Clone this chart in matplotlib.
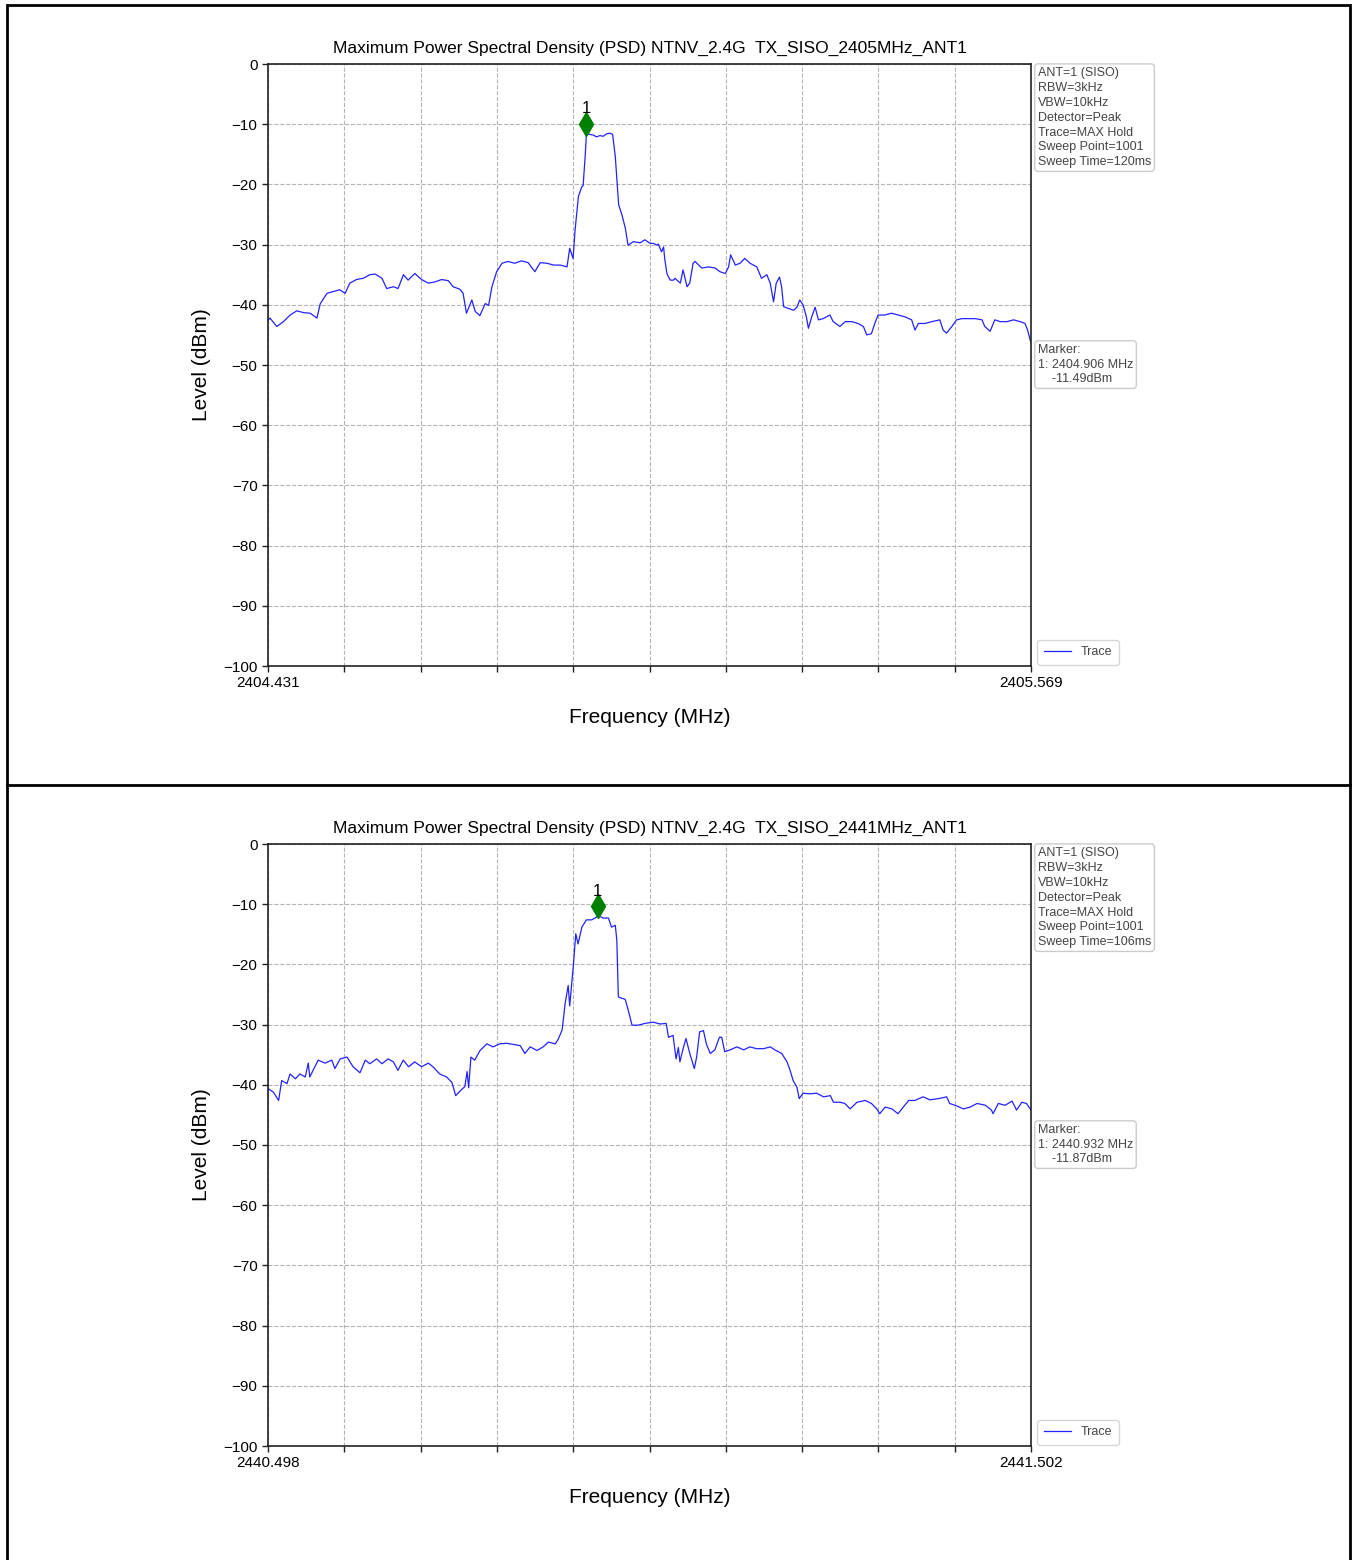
import matplotlib
matplotlib.use("Agg")
import matplotlib.pyplot as plt
from matplotlib.patches import Rectangle
from matplotlib.lines import Line2D

plt.rcParams['font.family'] = ['Liberation Sans', 'DejaVu Sans']

# ---------------- Panel 1 data ----------------
title1 = "Maximum Power Spectral Density (PSD) NTNV_2.4G  TX_SISO_2405MHz_ANT1"
start1, stop1 = 2404.431, 2405.569
freq1 = [2404.431, 2404.434, 2404.444, 2404.454, 2404.464, 2404.474, 2404.484, 2404.494,
         2404.504, 2404.509, 2404.519, 2404.528, 2404.538, 2404.546, 2404.553, 2404.563,
         2404.573, 2404.583, 2404.591, 2404.601, 2404.608, 2404.618, 2404.625, 2404.633,
         2404.640, 2404.650, 2404.660, 2404.670, 2404.680, 2404.690, 2404.700, 2404.707,
         2404.717, 2404.722, 2404.727, 2404.735, 2404.740, 2404.747, 2404.755, 2404.760,
         2404.765, 2404.772, 2404.780, 2404.789, 2404.799, 2404.809, 2404.819, 2404.829,
         2404.837, 2404.847, 2404.857, 2404.867, 2404.877, 2404.881, 2404.886, 2404.889,
         2404.894, 2404.899, 2404.901, 2404.904, 2404.906, 2404.911, 2404.916, 2404.921,
         2404.926, 2404.931, 2404.936, 2404.941, 2404.945, 2404.949, 2404.951, 2404.954,
         2404.959, 2404.964, 2404.968, 2404.976, 2404.986, 2404.993, 2405.001, 2405.006,
         2405.011, 2405.013, 2405.018, 2405.021, 2405.023, 2405.026, 2405.028, 2405.031,
         2405.036, 2405.038, 2405.046, 2405.050, 2405.056, 2405.060, 2405.065, 2405.068,
         2405.078, 2405.088, 2405.098, 2405.105, 2405.113, 2405.118, 2405.121, 2405.128,
         2405.135, 2405.142, 2405.150, 2405.160, 2405.167, 2405.175, 2405.180, 2405.185,
         2405.189, 2405.194, 2405.197, 2405.200, 2405.207, 2405.215, 2405.220, 2405.224,
         2405.229, 2405.234, 2405.237, 2405.242, 2405.247, 2405.252, 2405.259, 2405.269,
         2405.274, 2405.284, 2405.292, 2405.302, 2405.311, 2405.319, 2405.324, 2405.331,
         2405.336, 2405.341, 2405.351, 2405.361, 2405.371, 2405.381, 2405.391, 2405.396,
         2405.401, 2405.411, 2405.421, 2405.433, 2405.438, 2405.443, 2405.451, 2405.458,
         2405.466, 2405.476, 2405.486, 2405.496, 2405.500, 2405.508, 2405.515, 2405.523,
         2405.533, 2405.543, 2405.553, 2405.560, 2405.564, 2405.569]
level1 = [-42.6, -42.2, -43.6, -42.8, -41.7, -41.0, -41.3, -41.4,
          -42.2, -39.8, -38.1, -37.8, -37.5, -38.1, -36.4, -35.8,
          -35.6, -35.0, -34.9, -35.6, -37.3, -37.0, -37.3, -35.0,
          -35.9, -34.8, -35.8, -36.4, -36.2, -35.8, -36.0, -37.0,
          -37.4, -38.1, -41.4, -39.2, -41.1, -41.8, -39.8, -40.1,
          -37.0, -34.5, -33.1, -32.8, -33.1, -32.7, -33.0, -34.5,
          -33.0, -33.1, -33.4, -33.4, -33.7, -30.6, -32.3, -27.6,
          -22.0, -20.4, -20.2, -15.4, -11.49, -11.7, -11.8, -12.1,
          -11.9, -12.0, -11.6, -11.5, -11.7, -15.4, -18.7, -23.4,
          -25.1, -27.3, -30.1, -29.5, -29.7, -29.2, -29.8, -29.8,
          -30.1, -29.9, -31.2, -30.4, -32.6, -34.8, -35.3, -35.9,
          -35.9, -35.6, -36.4, -34.2, -37.0, -36.4, -33.1, -32.8,
          -33.9, -33.7, -33.9, -34.5, -34.8, -33.7, -31.7, -33.4,
          -33.1, -32.3, -33.1, -33.7, -35.6, -35.0, -36.4, -39.5,
          -36.4, -35.4, -37.0, -40.3, -40.6, -40.9, -40.4, -39.2,
          -40.0, -42.0, -43.9, -42.0, -40.4, -42.5, -42.3, -41.7,
          -42.8, -43.6, -42.8, -42.8, -43.1, -43.6, -45.0, -44.8,
          -43.1, -41.7, -41.7, -41.4, -41.7, -42.0, -42.5, -44.2,
          -43.1, -43.1, -42.8, -42.5, -44.2, -44.7, -43.6, -42.5,
          -42.3, -42.3, -42.3, -42.5, -43.6, -44.4, -42.5, -42.8,
          -42.8, -42.5, -42.8, -43.1, -44.2, -46.4]
marker1_freq, marker1_level = 2404.906, -11.49
info1 = ["ANT=1 (SISO)", "RBW=3kHz", "VBW=10kHz", "Detector=Peak",
         "Trace=MAX Hold", "Sweep Point=1001", "Sweep Time=120ms"]

# ---------------- Panel 2 data ----------------
title2 = "Maximum Power Spectral Density (PSD) NTNV_2.4G  TX_SISO_2441MHz_ANT1"
start2, stop2 = 2440.498, 2441.502
freq2 = [2440.498, 2440.501, 2440.505, 2440.512, 2440.516, 2440.523, 2440.527, 2440.534,
         2440.540, 2440.547, 2440.551, 2440.553, 2440.564, 2440.573, 2440.582, 2440.586,
         2440.593, 2440.602, 2440.610, 2440.619, 2440.626, 2440.632, 2440.641, 2440.648,
         2440.656, 2440.663, 2440.669, 2440.676, 2440.683, 2440.691, 2440.700, 2440.709,
         2440.715, 2440.724, 2440.733, 2440.740, 2440.745, 2440.751, 2440.757, 2440.760,
         2440.762, 2440.765, 2440.770, 2440.777, 2440.786, 2440.794, 2440.803, 2440.812,
         2440.821, 2440.830, 2440.836, 2440.843, 2440.852, 2440.860, 2440.867, 2440.876,
         2440.880, 2440.885, 2440.889, 2440.893, 2440.895, 2440.900, 2440.903, 2440.906,
         2440.911, 2440.917, 2440.924, 2440.931, 2440.932, 2440.939, 2440.946, 2440.950,
         2440.955, 2440.957, 2440.959, 2440.963, 2440.968, 2440.972, 2440.977, 2440.985,
         2440.994, 2441.005, 2441.014, 2441.022, 2441.025, 2441.031, 2441.035, 2441.038,
         2441.040, 2441.044, 2441.048, 2441.053, 2441.059, 2441.062, 2441.066, 2441.071,
         2441.075, 2441.080, 2441.086, 2441.092, 2441.095, 2441.099, 2441.106, 2441.115,
         2441.124, 2441.132, 2441.141, 2441.150, 2441.159, 2441.165, 2441.174, 2441.181,
         2441.185, 2441.189, 2441.194, 2441.197, 2441.202, 2441.211, 2441.220, 2441.229,
         2441.238, 2441.242, 2441.251, 2441.257, 2441.264, 2441.273, 2441.284, 2441.292,
         2441.299, 2441.303, 2441.310, 2441.319, 2441.327, 2441.334, 2441.341, 2441.349,
         2441.360, 2441.369, 2441.380, 2441.391, 2441.395, 2441.404, 2441.413, 2441.422,
         2441.431, 2441.442, 2441.450, 2441.452, 2441.459, 2441.468, 2441.477, 2441.483,
         2441.490, 2441.496, 2441.502]
level2 = [-40.6, -40.9, -41.2, -42.6, -39.3, -39.8, -38.2, -39.0,
          -38.2, -38.7, -36.4, -38.7, -35.9, -36.4, -35.9, -37.3,
          -35.7, -35.4, -37.0, -38.0, -35.9, -36.5, -35.7, -36.5,
          -35.7, -36.2, -37.6, -35.9, -37.0, -36.2, -37.0, -36.4,
          -37.0, -38.2, -38.7, -39.6, -41.8, -41.0, -40.3, -37.8,
          -40.5, -35.4, -35.9, -34.3, -33.2, -33.7, -33.2, -33.1,
          -33.3, -33.5, -34.8, -33.7, -34.3, -33.7, -32.9, -33.2,
          -32.4, -30.9, -26.5, -23.5, -26.9, -19.9, -14.9, -16.6,
          -13.8, -12.6, -12.6, -12.1, -11.87, -12.3, -12.3, -13.8,
          -13.5, -16.0, -25.4, -25.6, -25.8, -27.6, -30.1, -30.1,
          -29.8, -29.6, -29.9, -29.8, -32.1, -31.8, -35.7, -33.8,
          -36.2, -34.1, -32.3, -34.8, -37.3, -35.4, -31.2, -31.0,
          -33.3, -34.8, -34.2, -32.1, -32.1, -34.5, -34.2, -33.7,
          -34.2, -33.7, -34.0, -34.0, -33.7, -34.2, -34.8, -36.2,
          -37.6, -39.3, -40.4, -42.3, -41.4, -41.5, -41.4, -42.0,
          -41.8, -42.9, -42.9, -43.1, -44.0, -42.9, -42.6, -43.1,
          -44.0, -44.8, -43.7, -44.0, -44.8, -43.7, -42.6, -42.6,
          -42.0, -42.5, -42.3, -42.0, -43.1, -43.5, -44.0, -43.7,
          -43.1, -43.4, -44.2, -44.8, -43.1, -43.4, -42.7, -44.2,
          -42.9, -43.1, -44.2]
marker2_freq, marker2_level = 2440.932, -11.87
info2 = ["ANT=1 (SISO)", "RBW=3kHz", "VBW=10kHz", "Detector=Peak",
         "Trace=MAX Hold", "Sweep Point=1001", "Sweep Time=106ms"]

y_ticks = [0, -10, -20, -30, -40, -50, -60, -70, -80, -90, -100]

W, H = 1354, 1560
fig = plt.figure(figsize=(W / 100, H / 100), dpi=100)

# outer frame and divider
fig.patches.append(Rectangle((6.5 / W, -0.01), (1349.5 - 6.5) / W, 1.01 - 5.5 / H,
                             transform=fig.transFigure, fill=False, edgecolor='black',
                             linewidth=2, zorder=0))
fig.lines.append(Line2D([6.5 / W, 1349.5 / W], [1 - 785 / H, 1 - 785 / H],
                        transform=fig.transFigure, color='black', linewidth=2))


def panel(top_px, title, start, stop, freq, level, mfreq, mlevel, info):
    left = 268 / W
    width = (1031 - 268) / W
    height = 602 / H
    bottom = 1 - (top_px + 602) / H
    ax = fig.add_axes([left, bottom, width, height])
    ax.plot(freq, level, color='#2222ff', linewidth=0.9, label='Trace')
    ax.plot([mfreq], [mlevel + 1.5], marker='d', color='green', markersize=12,
            linestyle='none')
    ax.text(mfreq, mlevel + 2.8, "1", ha='center', va='bottom', fontsize=12)
    ax.set_xlim(start, stop)
    ax.set_ylim(-100, 0)
    xt = [start + i * (stop - start) / 10 for i in range(11)]
    ax.set_xticks(xt)
    ax.set_xticklabels([f"{start:.3f}"] + [""] * 9 + [f"{stop:.3f}"])
    ax.set_yticks(y_ticks)
    ax.tick_params(direction='out', length=4, width=1, labelsize=11, colors='#222222',
                   labelcolor='black')
    ax.grid(True, linestyle='--', color='#b5b5b5', linewidth=0.8)
    for s in ax.spines.values():
        s.set_color('#222222')
        s.set_linewidth(1.2)
    ax.set_title(title, fontsize=12.5, pad=8)
    ax.set_xlabel("Frequency (MHz)", fontsize=15, labelpad=13)
    ax.set_ylabel("Level (dBm)", fontsize=15, labelpad=9)
    bbox = dict(boxstyle='round,pad=0.25', facecolor='white', edgecolor='#cccccc',
                linewidth=1)
    ax.text(1.009, 0.995, "\n".join(info), transform=ax.transAxes, ha='left', va='top',
            fontsize=9, color='#444444', linespacing=1.32, bbox=bbox)
    ax.text(1.009, 0.535, f"Marker:\n1: {mfreq:.3f} MHz\n    {mlevel:.2f}dBm",
            transform=ax.transAxes, ha='left', va='top', fontsize=9, color='#444444',
            linespacing=1.3, bbox=bbox)
    ax.legend(loc='lower left', bbox_to_anchor=(1.0, -0.008), fontsize=9,
              frameon=True, handlelength=2.2, borderpad=0.5, fancybox=True,
              edgecolor='#cccccc', labelcolor='#444444')
    return ax


panel(64, title1, start1, stop1, freq1, level1, marker1_freq, marker1_level, info1)
panel(844, title2, start2, stop2, freq2, level2, marker2_freq, marker2_level, info2)

fig.savefig("out.png", dpi=100)
